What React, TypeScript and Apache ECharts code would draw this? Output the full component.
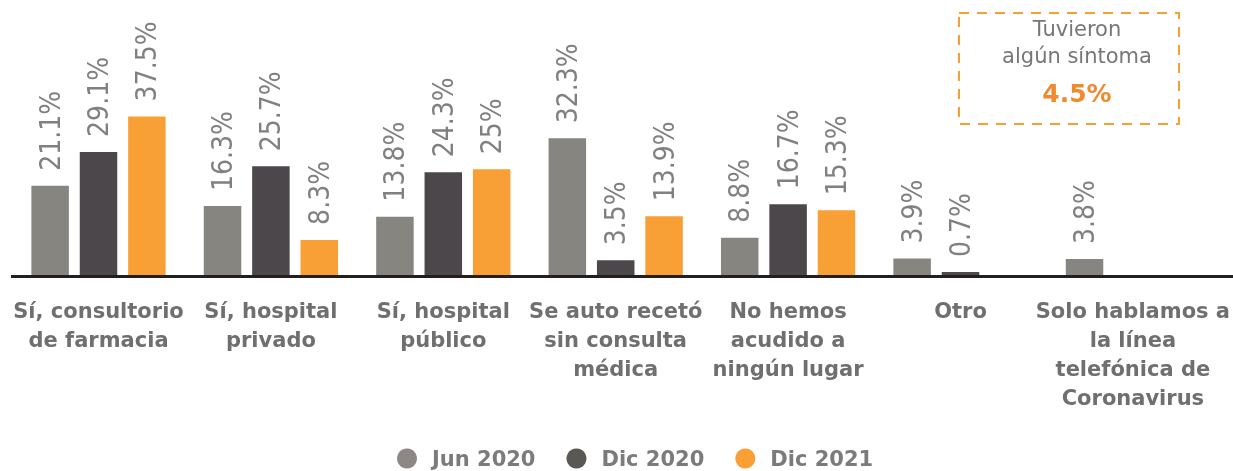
import React, { useEffect, useRef } from "react";
import * as echarts from "echarts";

const categories = [
  "Sí, consultorio\nde farmacia",
  "Sí, hospital\nprivado",
  "Sí, hospital\npúblico",
  "Se auto recetó\nsin consulta\nmédica",
  "No hemos\nacudido a\nningún lugar",
  "Otro",
  "Solo hablamos a\nla línea\ntelefónica de\nCoronavirus",
];
const seriesNames = ["Jun 2020", "Dic 2020", "Dic 2021"];
const jun2020 = [21.1, 16.3, 13.8, 32.3, 8.8, 3.9, 3.8];
const dic2020 = [29.1, 25.7, 24.3, 3.5, 16.7, 0.7, null];
const dic2021 = [37.5, 8.3, 25, 13.9, 15.3, null, null];
const barColors = ["#878580", "#4b474a", "#f8a035"];
const legendColors = ["#8d8886", "#5a5853", "#f8a035"];
const noteLines = ["Tuvieron", "algún síntoma"];
const noteValue = "4.5%";

export default function App() {
  const ref = useRef<HTMLDivElement>(null);
  useEffect(() => {
    if (!ref.current) return;
    const chart = echarts.init(ref.current, null, { renderer: "svg" });
    const values = [jun2020, dic2020, dic2021];
    const labelFont = "'Liberation Sans Narrow', 'DejaVu Sans Condensed', Roboto, sans-serif";
    chart.setOption({
      animation: false,
      grid: {
        left: 12.3,
        width: 1206.8,
        top: 21.2,
        bottom: 196,
        containLabel: false,
        outerBoundsMode: "none",
      },
      legend: {
        left: 397,
        top: 448,
        padding: 0,
        itemWidth: 20,
        itemHeight: 20,
        itemGap: 31,
        icon: "circle",
        textStyle: {
          fontFamily: "DejaVu Sans",
          fontWeight: "bold",
          fontSize: 21,
          color: "#7b7b7b",
          padding: [0, 0, 0, 10],
        },
        data: seriesNames.map((n, i) => ({ name: n, itemStyle: { color: legendColors[i] } })),
      },
      xAxis: {
        type: "category",
        data: categories,
        axisLine: { show: false },
        axisTick: { show: false },
        axisLabel: {
          interval: 0,
          margin: 21,
          fontFamily: "DejaVu Sans",
          fontWeight: "bold",
          fontSize: 21,
          lineHeight: 29,
          color: "#6f6f6f",
        },
      },
      yAxis: {
        type: "value",
        min: 0,
        max: 60,
        show: false,
        splitLine: { show: false },
      },
      series: seriesNames.map((name, i) => ({
        name,
        type: "bar",
        data: values[i],
        barWidth: 37.5,
        barGap: "29%",
        itemStyle: { color: barColors[i] },
        label: {
          show: true,
          position: "top",
          rotate: 90,
          align: "left",
          verticalAlign: "middle",
          distance: 15,
          fontFamily: labelFont,
          fontSize: 28,
          color: "#808080",
          formatter: (p: any) => `${p.value}%`,
        },
      })),
      graphic: [
        {
          type: "line",
          shape: { x1: 11, y1: 276.5, x2: 1233, y2: 276.5 },
          style: { stroke: "#231f20", lineWidth: 3 },
        },
        {
          type: "rect",
          shape: { x: 959, y: 13, width: 220, height: 111 },
          style: { fill: "none", stroke: "#f5a030", lineWidth: 2, lineDash: [10, 8] },
        },
        {
          type: "text",
          x: 1077,
          y: 29,
          style: {
            text: noteLines[0],
            textAlign: "center",
            textVerticalAlign: "middle",
            fontFamily: "DejaVu Sans",
            fontSize: 21,
            fill: "#777777",
          },
        },
        {
          type: "text",
          x: 1077,
          y: 56,
          style: {
            text: noteLines[1],
            textAlign: "center",
            textVerticalAlign: "middle",
            fontFamily: "DejaVu Sans",
            fontSize: 21,
            fill: "#777777",
          },
        },
        {
          type: "text",
          x: 1077,
          y: 93,
          style: {
            text: noteValue,
            textAlign: "center",
            textVerticalAlign: "middle",
            fontFamily: "DejaVu Sans",
            fontWeight: "bold",
            fontSize: 25,
            fill: "#ef8a2f",
          },
        },
      ],
    });
    return () => chart.dispose();
  }, []);
  return (
    <div
      ref={ref}
      style={{ position: "fixed", left: 0, top: 0, width: 1233, height: 471 }}
    />
  );
}
